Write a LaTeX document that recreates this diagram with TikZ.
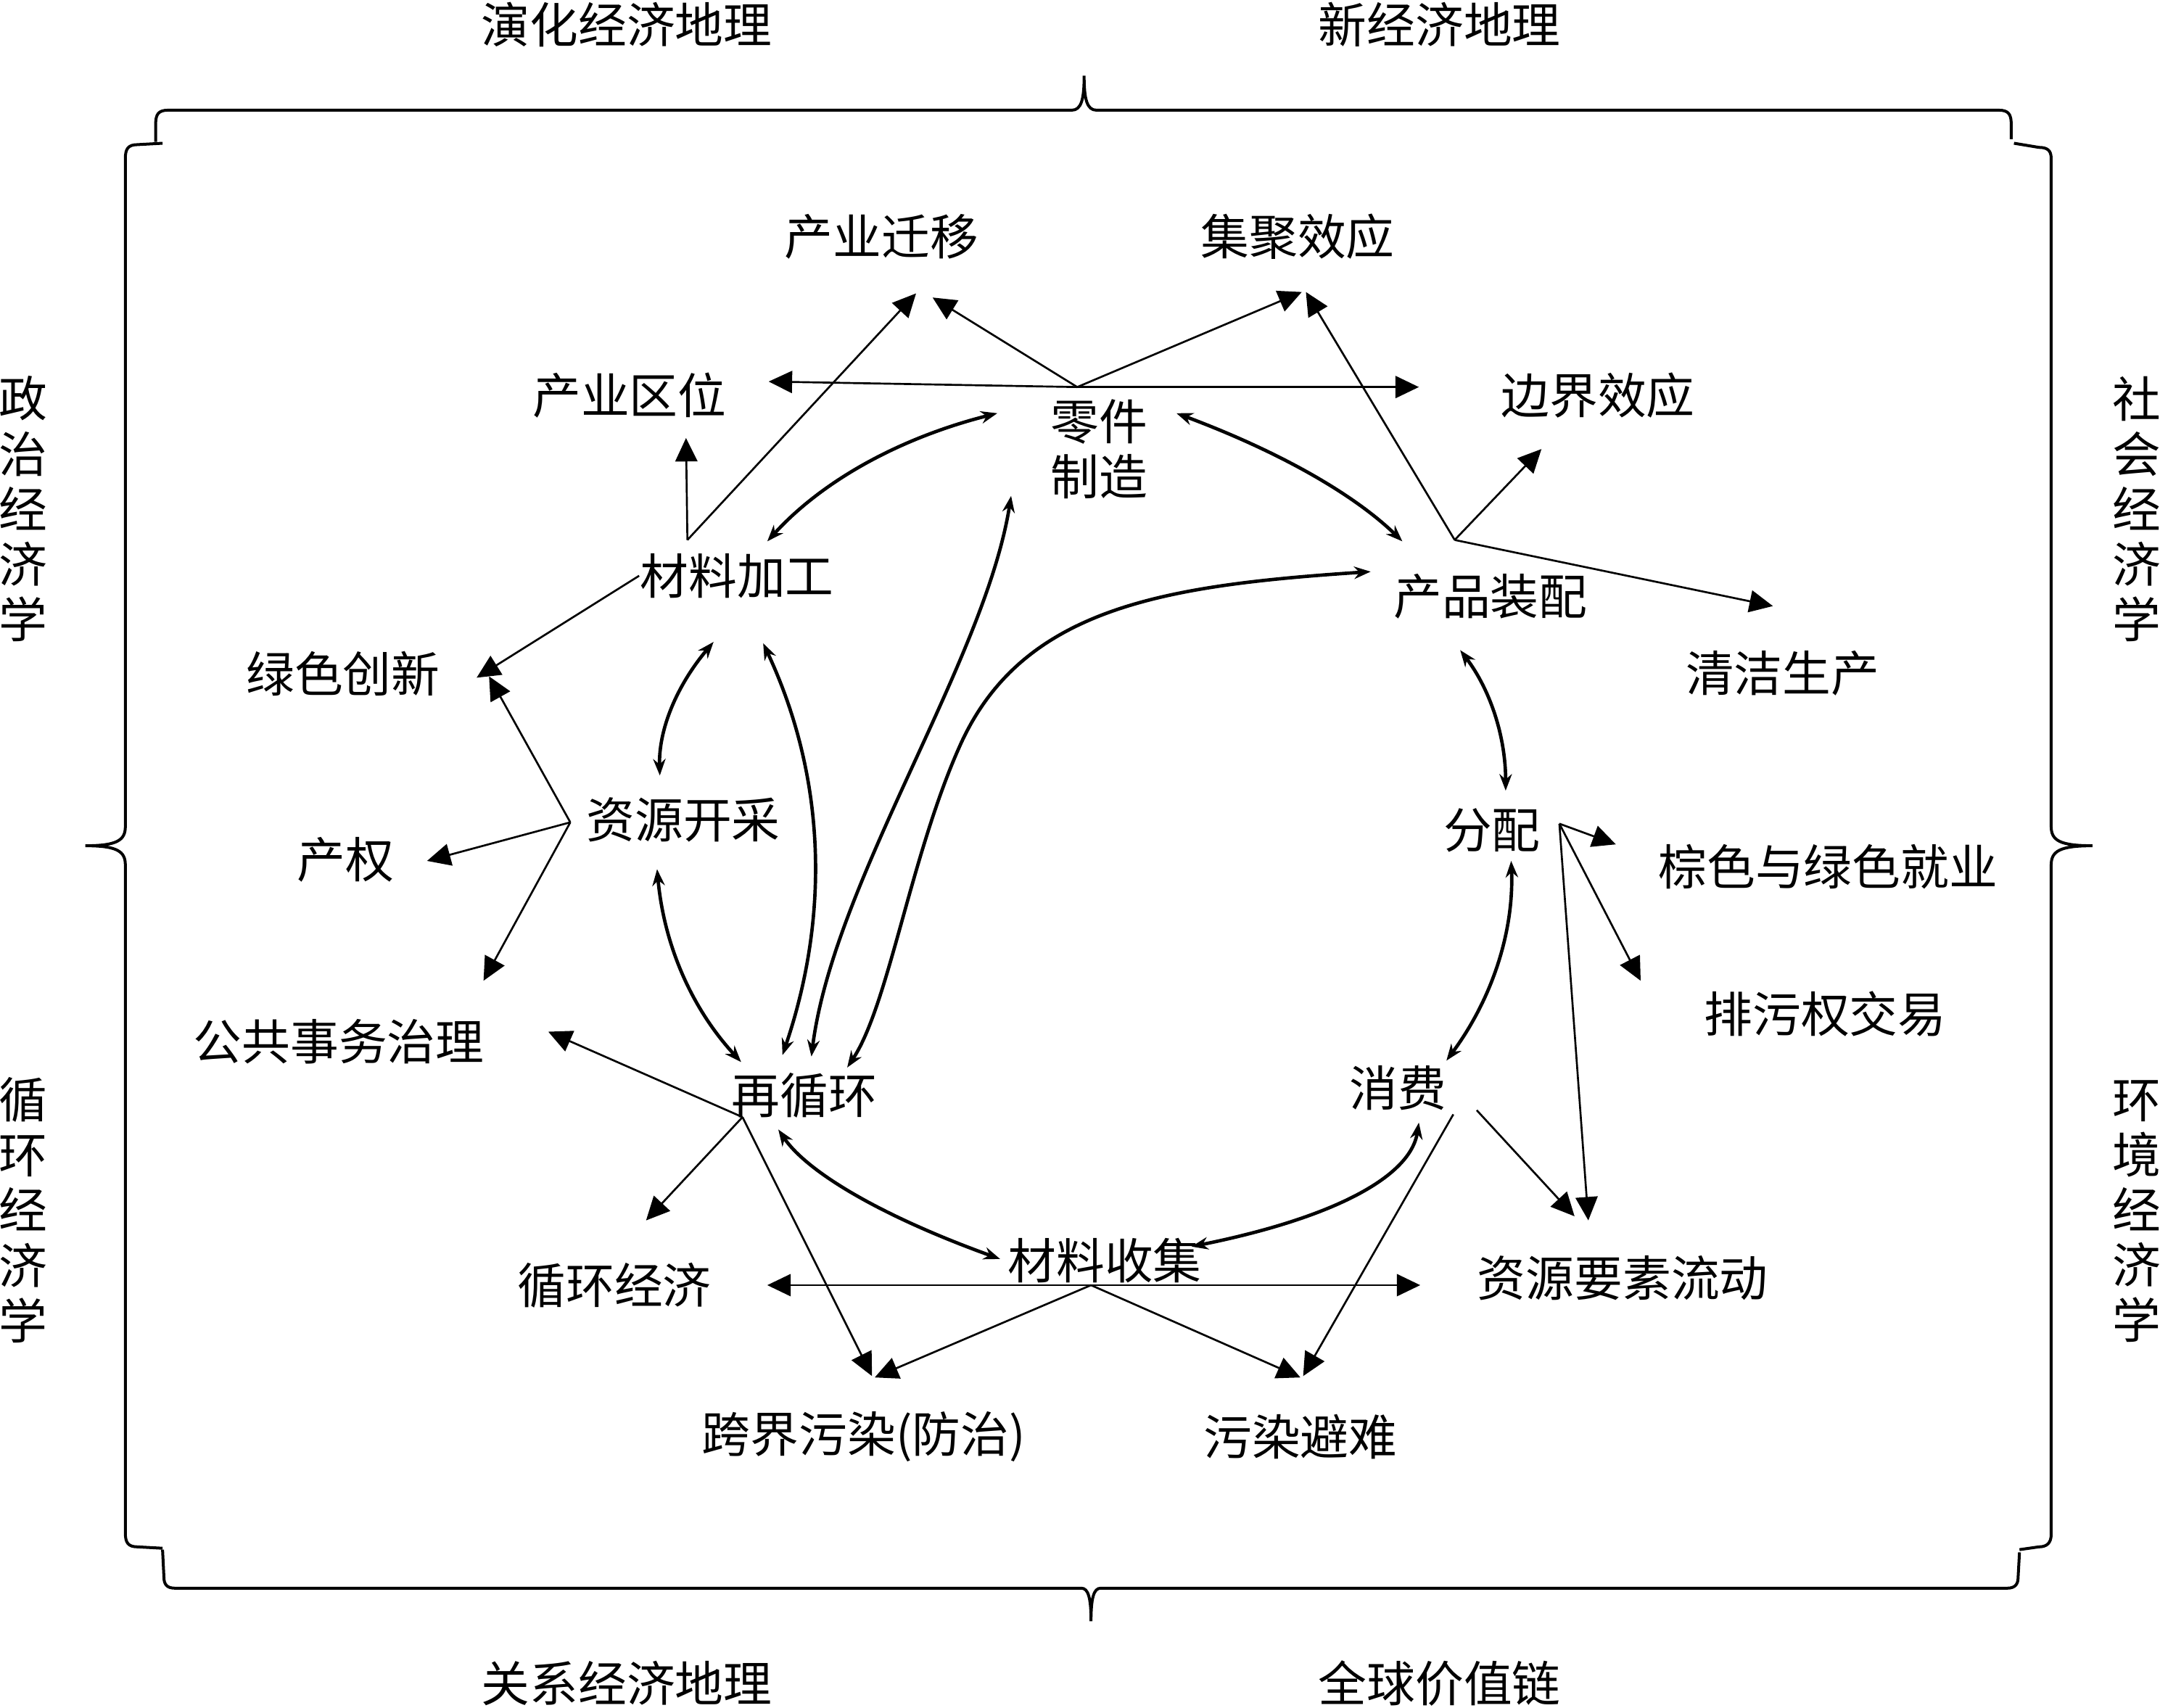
\documentclass[tikz,border=0pt]{standalone}
\usepackage{fontspec}
\usepackage{tikz}
\usetikzlibrary{arrows.meta}
\newfontfamily\cjk{Noto Sans CJK SC}

\begin{document}
\begin{tikzpicture}[x=0.01cm,y=-0.01cm,
        lbl/.style={font=\cjk\fontsize{10}{11.4}\selectfont, inner sep=0pt, align=center},
        branch/.style={-{Triangle[length=0.17cm,width=0.16cm]}, line width=0.4pt},
        cyc/.style={{Stealth[length=0.12cm,width=0.09cm]}-{Stealth[length=0.12cm,width=0.09cm]}, line width=0.7pt},
        brace/.style={line width=0.6pt}]
        \useasboundingbox (0,0) rectangle (1568,1239.5);

        % disciplines round the frame
        \node[lbl] (yanhua) at (455,18) {演化经济地理};
        \node[lbl] (xinjingji) at (1045,18) {新经济地理};
        \node[lbl] (guanxi) at (455,1222) {关系经济地理};
        \node[lbl] (jiazhi) at (1045,1222) {全球价值链};
        \node[lbl] (zhengzhi) at (17,369.5) {政\\治\\经\\济\\学};
        \node[lbl] (xunhuanxue) at (17,878.5) {循\\环\\经\\济\\学};
        \node[lbl] (shehui) at (1551,369.5) {社\\会\\经\\济\\学};
        \node[lbl] (huanjing) at (1551,879.5) {环\\境\\经\\济\\学};

        % braces
        \draw[brace] (113,103) -- (113,90) .. controls (113,83) and (115,80) .. (122,80) -- (778,80)
            .. controls (785,80) and (787,72) .. (787,55) .. controls (787,72) and (789,80) .. (796,80) -- (1451,80)
            .. controls (1458,80) and (1460,83) .. (1460,90) -- (1460,101);
        \draw[brace] (118,104) -- (100,105) .. controls (93,105) and (91,108) .. (91,115) -- (91,600)
            .. controls (91,610) and (85,614) .. (62,614) .. controls (85,614) and (91,618) .. (91,628) -- (91,1113)
            .. controls (91,1120) and (93,1123) .. (100,1123) -- (118,1124);
        \draw[brace] (118,1125) -- (119,1145) .. controls (119,1150) and (121,1153) .. (127,1153) -- (785,1153)
            .. controls (790,1153) and (792,1160) .. (792,1177) .. controls (792,1160) and (794,1153) .. (799,1153) -- (1457,1153)
            .. controls (1463,1153) and (1465,1150) .. (1465,1145) -- (1466,1127);
        \draw[brace] (1466,1125) -- (1480,1123) .. controls (1486,1123) and (1489,1120) .. (1489,1114) -- (1489,628)
            .. controls (1489,618) and (1495,614) .. (1519,614) .. controls (1495,614) and (1489,610) .. (1489,600) -- (1489,115)
            .. controls (1489,109) and (1486,107) .. (1480,107) -- (1462,104);

        % stages of the loop
        \node[lbl] (lingjian) at (798,326) {零件\\制造};
        \node[lbl] (jiagong) at (535,418) {材料加工};
        \node[lbl] (zhuangpei) at (1082,433) {产品装配};
        \node[lbl] (kaicai) at (496,595) {资源开采};
        \node[lbl] (fenpei) at (1083,603) {分配};
        \node[lbl] (xunhuan) at (584,795) {再循环};
        \node[lbl] (xiaofei) at (1015,790) {消费};
        \node[lbl] (shouji) at (802,915) {材料收集};

        % topics
        \node[lbl] (qianyi) at (640,172) {产业迁移};
        \node[lbl] (jiju) at (942,172) {集聚效应};
        \node[lbl] (quwei) at (457,287) {产业区位};
        \node[lbl] (bianjie) at (1160,287) {边界效应};
        \node[lbl] (qingjie) at (1294,489) {清洁生产};
        \node[lbl] (chuangxin) at (249,489) {绿色创新};
        \node[lbl] (chanquan) at (251,624) {产权};
        \node[lbl] (jiuye) at (1327,629) {棕色与绿色就业};
        \node[lbl] (paiwu) at (1325,736) {排污权交易};
        \node[lbl] (zhili) at (246,756) {公共事务治理};
        \node[lbl] (xhjj) at (446,933) {循环经济};
        \node[lbl] (liudong) at (1178,928) {资源要素流动};
        \node[lbl] (kuajie) at (627,1043) {跨界污染(防治)};
        \node[lbl] (binan) at (944,1043) {污染避难};

        % hubs and arrow ends
        \foreach \n/\x/\y in {hlj/782/281, hjg/499/392, hks/414/597, hxh/539/811, hsj/792/933,
                hxf/1055/809, hxf2/1072/806, hfp/1132/598, hzp/1056/392,
                tqy1/677/216, tqy2/665/213, tjj1/945/212, tjj2/948/212, tqw1/558/277, tqw2/498/318,
                tbj1/1030/281, tbj2/1119/326, tcx1/346/492, tcx2/355/491, tcq/310/625,
                tzl1/351/712, tzl2/398/749, txj1/469/886, txj2/557/933, tkj1/633/999, tkj2/635/1000,
                tld1/1031/933, tld2/1143/883, tld3/1153/886, tbn1/944/1000, tbn2/946/999,
                tjy/1173/613, tpw/1191/712, tqj/1287/440}
            \coordinate (\n) at (\x,\y);

        \foreach \a/\b in {hlj/tqy1, hlj/tjj1, hlj/tqw1, hlj/tbj1, hjg/tqw2, hjg/tqy2,
                hks/tcx2, hks/tcq, hks/tzl1, hxh/tzl2, hxh/txj1, hxh/tkj1,
                hsj/txj2, hsj/tld1, hsj/tkj2, hsj/tbn1, hxf/tbn2, hxf2/tld2,
                hfp/tjy, hfp/tpw, hfp/tld3, hzp/tjj2, hzp/tbj2, hzp/tqj}
            \draw[branch] (\a) -- (\b);
        \draw[branch] (jiagong.west) -- (tcx1);

        % loop
        \foreach \n/\x/\y in {jg-lj/557/393, lj-jg/724/300, lj-zp/854/300, zp-lj/1018/393,
                zp-fp/1060/472, fp-zp/1093/574, fp-xf/1097/625, xf-fp/1050/770,
                xf-sj/1030/815, sj-xf/865/905, sj-xh/726/914, xh-sj/565/820,
                xh-ks/538/771, ks-xh/477/631, ks-jg/479/563, jg-ks/518/466,
                jg-xh/554/467, xh-jg/568/766, lj-xh/734/360, xh-lj/589/767,
                zp-xh/995/415, xh-zp/615/775}
            \coordinate (\n) at (\x,\y);
        \draw[cyc] (jg-lj) .. controls (597,349) and (653,318) .. (lj-jg);
        \draw[cyc] (lj-zp) .. controls (929,328) and (983,359) .. (zp-lj);
        \draw[cyc] (zp-fp) .. controls (1082,501) and (1093,535) .. (fp-zp);
        \draw[cyc] (fp-xf) .. controls (1099,675) and (1084,724) .. (xf-fp);
        \draw[cyc] (xf-sj) .. controls (1024,854) and (969,884) .. (sj-xf);
        \draw[cyc] (sj-xh) .. controls (640,883) and (586,851) .. (xh-sj);
        \draw[cyc] (xh-ks) .. controls (502,732) and (482,686) .. (ks-xh);
        \draw[cyc] (ks-jg) .. controls (478,530) and (491,498) .. (jg-ks);
        \draw[cyc] (jg-xh) .. controls (599,563) and (603,663) .. (xh-jg);
        \draw[cyc] (lj-xh) .. controls (715,480) and (605,640) .. (xh-lj);
        \draw[cyc] (zp-xh) .. controls (845,425) and (742,441) .. (697,541)
            .. controls (661,621) and (645,730) .. (xh-zp);
\end{tikzpicture}
\end{document}
